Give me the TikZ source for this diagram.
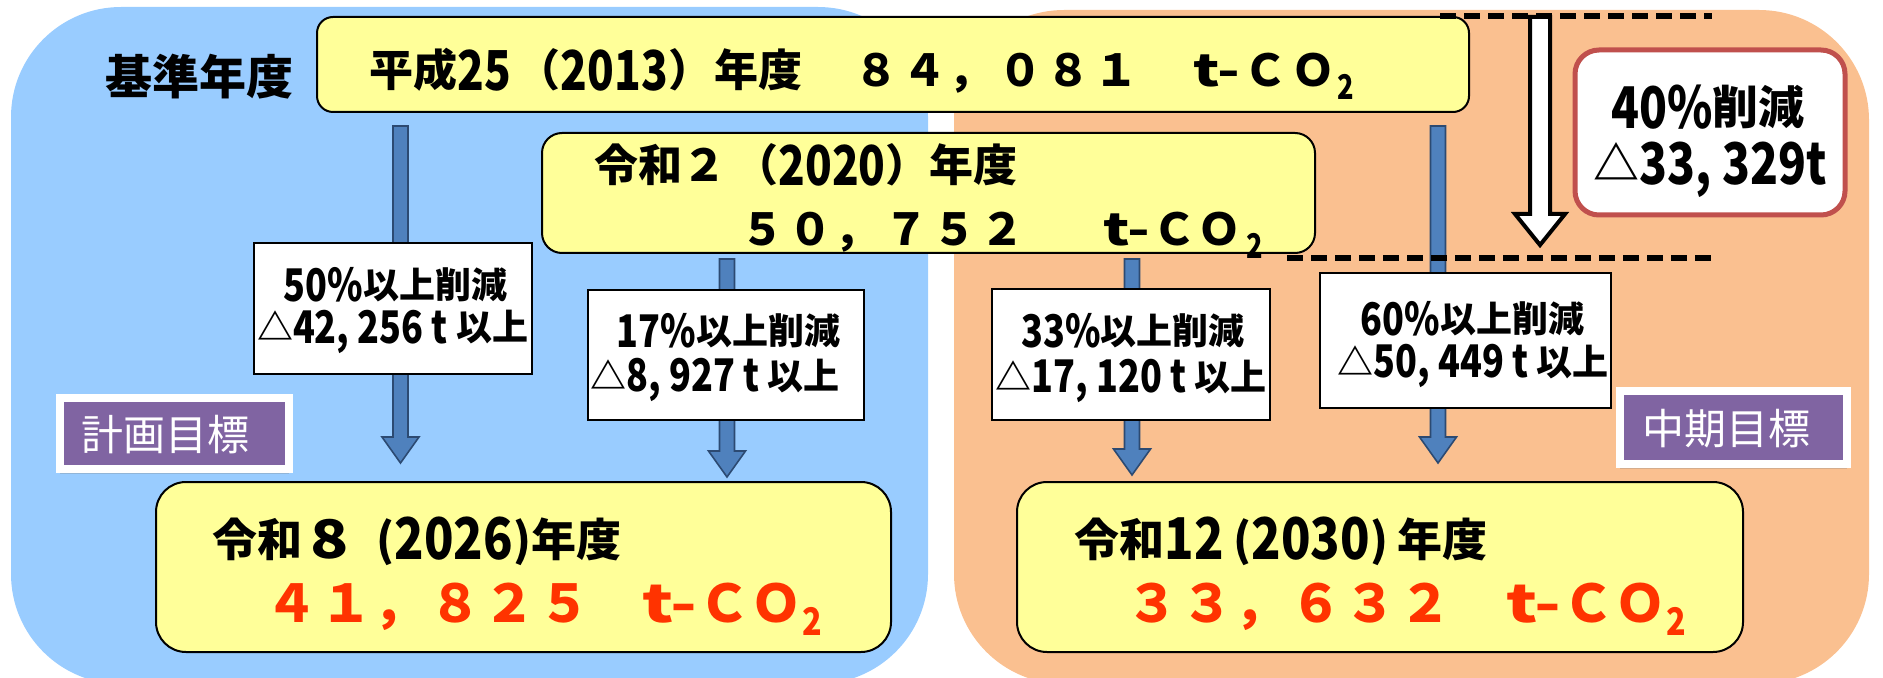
\documentclass[tikz,border=0pt]{standalone}
\usepackage{fontspec}
\setmainfont{Noto Sans CJK JP}
\usepackage{graphicx}
\usetikzlibrary{fit,calc,shadows}
\definecolor{cBluePanel}{HTML}{99CCFF}
\definecolor{cOrangePanel}{HTML}{FAC090}
\definecolor{cYellow}{HTML}{FFFF99}
\definecolor{cArrow}{HTML}{4F81BD}
\definecolor{cArrowEdge}{HTML}{2C4A72}
\definecolor{cPurple}{HTML}{8064A2}
\definecolor{cRedBorder}{HTML}{C0504D}
\definecolor{cRedText}{HTML}{FF3300}
\newcommand\fsz[2]{\fontsize{#1}{#2}\selectfont}
\newcommand\tl[1]{\raisebox{-0.07em}{\scalebox{1}[1.25]{#1}}}
\newcommand\tlb[1]{\raisebox{-0.07em}{\scalebox{1.08}[1.28]{#1}}}
\newcommand\cel[2]{\makebox[#1]{#2}}
\newcommand\cell[2]{\makebox[#1][l]{#2}}
\newcommand\tdash{\scalebox{1.35}[1]{t-}}
\newcommand\subtwo[3]{\raisebox{-#2}{\fsz{#1}{#1}\scalebox{#3}[1]{2}}}
\newcommand\blockarr[2]{\draw[blockarrow] ($(#1)+(-7.5,0)$) -- ($(#2)+(-7.5,-26)$) -- ($(#2)+(-18.5,-26)$) -- (#2) -- ($(#2)+(18.5,-26)$) -- ($(#2)+(7.5,-26)$) -- ($(#1)+(7.5,0)$) -- cycle;}
\begin{document}
\begin{tikzpicture}[x=0.5pt,y=-0.5pt,
  panel/.style={rounded corners=55pt},
  yellowbox/.style={draw=black, line width=1pt, fill=cYellow, rounded corners=#1, inner sep=0pt},
  yellowbox/.default=10pt,
  whitebox/.style={draw=black, line width=1pt, fill=white, inner sep=0pt},
  boxtext/.style={inner sep=0pt, anchor=base, font=\bfseries\fsz{18pt}{18pt}},
  txt/.style={inner sep=0pt, anchor=base west},
  tagbox/.style={fill=cPurple, draw=white, line width=4pt, inner sep=0pt, drop shadow={opacity=0.3, shadow xshift=0pt, shadow yshift=-2.5pt}},
  tagtext/.style={text=white, font=\fsz{21pt}{21pt}, inner sep=0pt},
  blockarrow/.style={fill=cArrow, draw=cArrowEdge, line width=0.8pt, line join=miter},
  hollowarrow/.style={fill=white, draw=black, line width=2pt, line join=miter},
  dashline/.style={draw=black, line width=2.8pt, dash pattern=on 8pt off 4pt},
  goalbox/.style={draw=cRedBorder, line width=2.5pt, fill=white, rounded corners=12pt, inner sep=0pt},
  goaltext/.style={inner sep=0pt, anchor=base, font=\bfseries\fsz{23pt}{23pt}},
  redline/.style={txt, text=cRedText, font=\bfseries\fsz{26pt}{26pt}}
]
\useasboundingbox (0,0) rectangle (1883,678);
% background panels
\fill[panel, cBluePanel] (11,7) rectangle (928,684);
\fill[panel, cOrangePanel] (954,10) rectangle (1869,684);

% label
\node[txt, font=\bfseries\fsz{23.5pt}{23.5pt}] (kijunlbl) at (105,95) {基準年度};

% base year box
\node[yellowbox=8pt, fit={(317,17) (1469,112)}] (base) {};
\node[txt, font=\bfseries\fsz{22pt}{22pt}] (basetxt) at (369,87)
  {\makebox[241.75pt][l]{平成\tl{25}\hspace{3pt}（\tl{2013}）\hspace{1pt}年度}\cel{24pt}{８}\cel{24pt}{４}\cell{24pt}{，}\cel{24pt}{０}\cel{24pt}{８}\cel{24pt}{１}\hspace{26.25pt}\cell{24pt}{\tdash}\cel{24pt}{Ｃ}\cel{24pt}{Ｏ}\subtwo{17pt}{6.5pt}{0.8}};

% 2020 box
\node[yellowbox=10pt, fit={(542,133) (1315,253)}] (r2) {};
\node[txt, font=\bfseries\fsz{22pt}{22pt}] (r2a) at (594,182)
  {令和２\hspace{4pt}（\tl{2020}）年度};
\node[txt, font=\bfseries\fsz{22pt}{22pt}] (r2b) at (738,246)
  {\cel{24pt}{５}\cel{24pt}{０}\cell{24pt}{，}\cel{24pt}{７}\cel{24pt}{５}\cel{24pt}{２}\hspace{38.5pt}\cell{24.5pt}{\tdash}\cel{22.5pt}{Ｃ}\cel{22.5pt}{Ｏ}\hspace{2pt}\subtwo{17pt}{6.5pt}{0.8}};

% arrow coordinates
\coordinate (a1s) at (400.5,126);
\coordinate (a1e) at (400.5,463);
\coordinate (a2s) at (727,259);
\coordinate (a2e) at (727,477);
\coordinate (a3s) at (1132,259);
\coordinate (a3e) at (1132,475);
\coordinate (a4s) at (1438,126);
\coordinate (a4e) at (1438,463);
\blockarr{a1s}{a1e}
\blockarr{a2s}{a2e}
\blockarr{a3s}{a3e}
\blockarr{a4s}{a4e}

% reduction boxes
\node[whitebox, fit={(254,243) (532,374)}] (red50) {};
\node[boxtext] (red50a) at (395.5,299) {\tl{50\%}以上削減};
\node[boxtext] (red50b) at (392.5,341) {△\tl{42, 256 t} 以上};
\node[whitebox, fit={(588,290) (864,420)}] (red17) {};
\node[boxtext] (red17a) at (728.5,345) {\tl{17\%}以上削減};
\node[boxtext] (red17b) at (715,389) {△\tl{8, 927 t} 以上};
\node[whitebox, fit={(992,289) (1270,420)}] (red33) {};
\node[boxtext] (red33a) at (1133,345) {\tl{33\%}以上削減};
\node[boxtext] (red33b) at (1131,390) {△\tl{17, 120 t} 以上};
\node[whitebox, fit={(1320,273) (1611,408)}] (red60) {};
\node[boxtext] (red60a) at (1472.5,333) {\tl{60\%}以上削減};
\node[boxtext] (red60b) at (1473,375) {△\tl{50, 449 t} 以上};

% tags
\node[tagbox, fit={(60,398) (289,469)}] (plantag) {};
\node[tagtext] (plantxt) at (165,435) {計画目標};
\node[tagbox, fit={(1620,391) (1847,464)}] (midtag) {};
\node[tagtext] (midtxt) at (1726.5,429) {中期目標};

% target boxes
\node[yellowbox=15pt, fit={(156,482) (891,652)}] (r8) {};
\node[txt, font=\bfseries\fsz{22.5pt}{22.5pt}] (r8a) at (212,556)
  {令和\hspace{4pt}\raisebox{-0.05em}{\scalebox{1.4}[1.18]{8}}\hspace{14pt}(\tlb{2026})年度};
\node[redline] (r8b) at (264,622)
  {\cel{27.25pt}{４}\cel{27.25pt}{１}\cell{27.25pt}{，}\cel{27.25pt}{８}\cel{27.25pt}{２}\cel{27.25pt}{５}\hspace{25.5pt}\cell{28pt}{\tdash}\cel{26pt}{Ｃ}\cel{26pt}{Ｏ}\subtwo{19pt}{6.5pt}{0.85}};

\node[yellowbox=15pt, fit={(1017,482) (1743,652)}] (r12) {};
\node[txt, font=\bfseries\fsz{22.5pt}{22.5pt}] (r12a) at (1074,556)
  {令和\tlb{12}\hspace{5pt}(\tlb{2030})\hspace{5pt}年度};
\node[redline] (r12b) at (1125,622)
  {\cel{27.25pt}{３}\cel{27.25pt}{３}\cell{27.25pt}{，}\cel{27.25pt}{６}\cel{27.25pt}{３}\cel{27.25pt}{２}\hspace{27pt}\cell{28pt}{\tdash}\cel{26pt}{Ｃ}\cel{26pt}{Ｏ}\subtwo{19pt}{6.5pt}{0.85}};

% hollow arrow
\coordinate (ws) at (1540,17);
\coordinate (we) at (1540,245);
\draw[hollowarrow] ($(ws)+(-10,0)$) -- ($(we)+(-10,-31)$) -- ($(we)+(-25,-31)$) -- (we) -- ($(we)+(25,-31)$) -- ($(we)+(10,-31)$) -- ($(ws)+(10,0)$) -- cycle;

% dashed lines
\coordinate (d1a) at (1440,16);
\coordinate (d1b) at (1712,16);
\coordinate (d2a) at (1287,258);
\coordinate (d2b) at (1712,258);
\draw[dashline] (d1a) -- (d1b);
\draw[dashline] (d2a) -- (d2b);

% 40% box
\node[goalbox, fit={(1575,50) (1845,215)}] (goal) {};
\node[goaltext] (goala) at (1708,125) {\tl{40\%}削減};
\node[goaltext] (goalb) at (1710,181) {△\tl{33, 329t}};
\end{tikzpicture}
\end{document}
